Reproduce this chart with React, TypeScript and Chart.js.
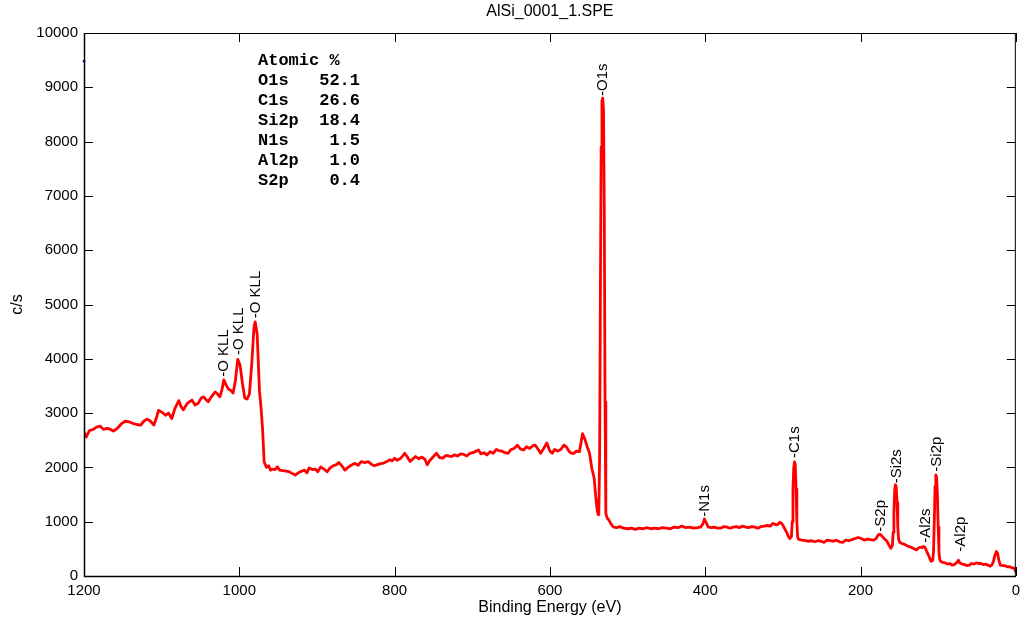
import React, { useEffect, useRef } from "react";
import { Chart, registerables } from "chart.js";

Chart.register(...registerables);

const chartTitle = "AlSi_0001_1.SPE";
const xAxisTitle = "Binding Energy (eV)";
const yAxisTitle = "c/s";

// Survey spectrum segments: [binding energy (eV), counts per second]
const highBackground: [number, number][] = [
  [1200, 2650], [1197, 2560], [1193, 2680], [1188, 2700], [1184, 2740], [1179, 2760],
  [1175, 2700], [1170, 2720], [1166, 2700], [1162, 2670], [1157, 2720], [1152, 2800],
  [1147, 2850], [1142, 2840], [1137, 2810], [1132, 2790], [1127, 2780], [1123, 2850],
  [1119, 2890], [1115, 2860], [1110, 2780], [1107, 2900], [1104, 3050], [1100, 3020],
  [1095, 2960], [1091, 3000], [1087, 2900], [1083, 3080], [1078, 3230], [1075, 3120],
  [1072, 3060], [1067, 3180], [1061, 3240], [1057, 3150], [1053, 3180], [1049, 3280],
  [1046, 3300], [1043, 3250], [1040, 3210], [1036, 3300], [1031, 3390], [1028, 3350],
  [1025, 3300],
];

const augerRegion: [number, number][] = [
  [1022, 3450], [1020, 3610], [1017, 3520], [1014, 3440], [1011, 3420], [1008, 3370],
  [1005, 3600], [1002, 3990], [999, 3880], [996, 3550], [993, 3280], [990, 3260],
  [987, 3350], [984, 3900], [981, 4600], [979.5, 4680], [977, 4450], [974, 3400],
  [972, 3100], [970, 2700], [968, 2100], [965, 2000],
];

const midBackground: [number, number][] = [
  [962, 2030], [960, 1950], [957, 1970], [954, 1960], [951, 2010], [948, 1950],
  [944, 1940], [940, 1930], [936, 1920], [932, 1890], [928, 1860], [924, 1900],
  [920, 1930], [916, 1950], [913, 1900], [910, 1990], [906, 1960], [902, 1970],
  [899, 1920], [895, 2010], [891, 1970], [887, 1920], [883, 1990], [879, 2030],
  [875, 2050], [872, 2090], [868, 2030], [864, 1950], [860, 2000], [856, 2040],
  [851, 2075], [847, 2040], [843, 2105], [839, 2090], [834, 2105], [830, 2060],
  [826, 2030], [822, 2050], [818, 2070], [814, 2080], [810, 2110], [806, 2140],
  [803, 2120], [800, 2170], [797, 2130], [793, 2160], [790, 2200], [787, 2260],
  [784, 2200], [780, 2110], [777, 2150], [773, 2200], [769, 2160], [765, 2190],
  [761, 2150], [758, 2050], [755, 2120], [750, 2200], [746, 2260], [742, 2180],
  [738, 2170], [734, 2220], [730, 2210], [727, 2200], [723, 2230], [719, 2210],
  [715, 2250], [711, 2240], [707, 2210], [703, 2260], [699, 2270], [695, 2300],
  [692, 2320], [689, 2250], [685, 2270], [681, 2230], [677, 2290], [673, 2260],
  [669, 2330], [666, 2310], [662, 2300], [658, 2270], [654, 2260], [650, 2330],
  [646, 2350], [642, 2410], [638, 2340], [634, 2320], [630, 2380], [626, 2350],
  [622, 2400], [619, 2410], [615, 2330], [612, 2260], [608, 2350], [604, 2450],
  [600, 2300], [597, 2260], [594, 2330], [590, 2300], [586, 2330], [582, 2410],
  [579, 2380], [575, 2290], [572, 2260], [569, 2260], [566, 2300], [562, 2290],
  [560, 2450], [558, 2620], [555, 2520], [552, 2380], [549, 2260],
];

const oxygenRegion: [number, number][] = [
  [546, 1980], [543, 1800], [541, 1460], [539, 1200], [538, 1130], [537, 1180],
  [536, 2200], [535, 5200], [534, 7900], [533, 8750], [532, 8800], [531, 8600],
  [530, 6800], [529, 3200], [528, 1150], [526, 1060], [524, 1030], [521, 950],
  [518, 900], [514, 890],
];

const lowBackground: [number, number][] = [
  [510, 910], [505, 880], [500, 870], [495, 880], [490, 860], [485, 880], [480, 870],
  [475, 890], [470, 870], [465, 880], [460, 870], [455, 890], [450, 880], [445, 870],
  [440, 900], [435, 890], [430, 920], [425, 890], [420, 900], [415, 880], [410, 890],
  [406, 900], [403, 960], [401, 1050], [399, 990], [396, 900], [392, 890], [388, 900],
  [384, 880], [380, 880], [376, 910], [372, 900], [368, 880], [364, 900], [360, 910],
  [356, 890], [352, 920], [348, 900], [344, 890], [340, 910], [336, 900], [332, 880],
  [328, 910], [324, 920], [320, 930], [316, 920], [313, 970], [310, 950], [307, 940],
  [304, 990], [301, 960], [298, 880], [295, 800], [293, 730], [291, 690], [289, 720],
];

const carbonRegion: [number, number][] = [
  [288, 1000], [287, 1600], [286, 2000], [285, 2100], [284, 2050], [283, 1600],
  [282, 1000], [281, 720], [280, 680], [278, 670], [275, 660], [271, 650], [267, 640],
  [263, 650], [259, 630], [255, 650], [251, 640], [247, 620], [243, 660], [239, 650],
  [235, 640], [231, 660], [227, 630], [223, 620], [219, 660], [215, 650], [211, 670],
  [207, 690], [203, 710], [199, 690], [195, 660], [191, 680], [187, 670], [183, 660],
  [180, 690], [177, 760], [175, 770], [172, 730], [169, 680], [166, 640], [163, 560],
  [161, 510],
];

const siliconRegion: [number, number][] = [
  [159, 560], [158, 800], [157, 1200], [156, 1580], [155, 1680], [154, 1640],
  [153, 1350], [152, 900], [151, 680], [149.5, 620], [147, 600], [143, 580], [139, 550],
  [135, 530], [131, 500], [128, 480], [125, 520], [123, 530], [121, 520], [119, 545],
  [117, 530], [115, 460], [113, 400], [111, 330], [109, 270], [107, 290], [106, 450],
  [105, 1000], [104, 1650], [103, 1860], [102, 1820], [101, 1500], [100, 900],
  [99, 450], [98, 300], [96, 260],
];

const valenceRegion: [number, number][] = [
  [94, 250], [91, 240], [88, 220], [85, 230], [82, 200], [79, 210], [76, 250], [74, 290],
  [72, 240], [69, 220], [66, 210], [63, 190], [60, 200], [57, 230], [54, 220], [51, 240],
  [48, 230], [45, 230], [42, 210], [39, 220], [36, 200], [33, 180], [31, 200], [29, 260],
  [27, 380], [25, 450], [23.5, 420], [22, 300], [20, 200], [17, 190], [14, 190],
  [11, 170], [8, 170], [5, 150], [3, 150], [1, 120], [0, 80],
];

const markerPoint: [number, number][] = [[1200, 9480]];

// Peak labels
const peakNames = ["-O KLL", "-O KLL", "-O KLL", "-O1s", "-N1s", "-C1s", "-S2p", "-Si2s", "-Al2s", "-Si2p", "-Al2p"];
const peakEnergies = [1019.7, 1000, 979.2, 532, 400, 284, 173.5, 153.5, 116, 101.6, 70.5];
const peakLabelCounts = [3670, 4070, 4746, 8840, 1092, 2173, 816, 1707, 613, 1921, 448];

// Atomic % table
const tableHeader = "Atomic %";
const tableElements = ["O1s", "C1s", "Si2p", "N1s", "Al2p", "S2p"];
const tablePercents = ["52.1", "26.6", "18.4", "1.5", "1.0", "0.4"];

const xTicks = [0, 200, 400, 600, 800, 1000, 1200];
const yTicks = [0, 1000, 2000, 3000, 4000, 5000, 6000, 7000, 8000, 9000, 10000];

const SANS = '"Liberation Sans", Arial, sans-serif';
const MONO = '"Liberation Mono", "Courier New", monospace';

export default function App() {
  const canvasRef = useRef<HTMLCanvasElement | null>(null);

  useEffect(() => {
    if (!canvasRef.current) return;
    const spectrum = [
      ...highBackground, ...augerRegion, ...midBackground, ...oxygenRegion,
      ...lowBackground, ...carbonRegion, ...siliconRegion, ...valenceRegion,
    ].map(([x, y]) => ({ x, y }));

    const decorations = {
      id: "decorations",
      afterDraw(chart: any) {
        const ctx = chart.ctx;
        const { left, right, top, bottom } = chart.chartArea;
        const xs = chart.scales.x;
        const ys = chart.scales.y;
        ctx.save();
        // box
        ctx.strokeStyle = "#000";
        ctx.lineWidth = 1;
        ctx.strokeRect(left + 0.5, top + 0.5, right - left - 1, bottom - top);
        ctx.lineWidth = 1.5;
        ctx.beginPath();
        ctx.moveTo(left + 0.5, top);
        ctx.lineTo(left + 0.5, bottom + 0.5);
        ctx.lineTo(right, bottom + 0.5);
        ctx.stroke();
        // inward ticks
        ctx.lineWidth = 1;
        const tl = 9;
        ctx.beginPath();
        xTicks.forEach((v) => {
          const px = Math.round(xs.getPixelForValue(v)) + 0.5;
          ctx.moveTo(px, bottom);
          ctx.lineTo(px, bottom - tl);
          ctx.moveTo(px, top);
          ctx.lineTo(px, top + tl);
        });
        yTicks.forEach((v) => {
          const py = Math.round(ys.getPixelForValue(v)) + 0.5;
          ctx.moveTo(left, py);
          ctx.lineTo(left + tl, py);
          ctx.moveTo(right, py);
          ctx.lineTo(right - tl, py);
        });
        ctx.stroke();

        // titles
        ctx.fillStyle = "#000";
        ctx.font = `16px ${SANS}`;
        ctx.textAlign = "center";
        ctx.textBaseline = "middle";
        ctx.fillText(chartTitle, (left + right) / 2, 12);
        ctx.fillText(xAxisTitle, (left + right) / 2, 608);
        ctx.save();
        ctx.translate(18, (top + bottom) / 2);
        ctx.rotate(-Math.PI / 2);
        ctx.fillText(yAxisTitle, 0, 0);
        ctx.restore();

        // peak labels
        ctx.font = `15px ${SANS}`;
        ctx.textAlign = "left";
        ctx.textBaseline = "middle";
        peakNames.forEach((name, i) => {
          const px = xs.getPixelForValue(peakEnergies[i]);
          const py = ys.getPixelForValue(peakLabelCounts[i]);
          ctx.save();
          ctx.translate(px, py);
          ctx.rotate(-Math.PI / 2);
          ctx.fillText(name, 0, 0);
          ctx.restore();
        });

        // atomic % table
        ctx.font = `bold 17px ${MONO}`;
        ctx.textAlign = "left";
        ctx.textBaseline = "alphabetic";
        const tx = 258;
        const ty = 65;
        ctx.fillText(tableHeader, tx, ty);
        tableElements.forEach((el, i) => {
          const row = el.padEnd(6, " ") + tablePercents[i].padStart(4, " ");
          ctx.fillText(row, tx, ty + 20 * (i + 1));
        });
        ctx.restore();
      },
    };

    const chart = new Chart(canvasRef.current, {
      type: "line",
      data: {
        datasets: [
          {
            data: spectrum,
            borderColor: "#ff0000",
            borderWidth: 2.8,
            pointRadius: 0,
            fill: false,
            tension: 0,
            borderJoinStyle: "round",
          } as any,
          {
            data: markerPoint.map(([x, y]) => ({ x, y })),
            borderColor: "#0000ff",
            backgroundColor: "#0000ff",
            showLine: false,
            pointRadius: 1.3,
            borderWidth: 0,
            clip: false,
          } as any,
        ],
      },
      options: {
        animation: false,
        responsive: false,
        maintainAspectRatio: false,
        devicePixelRatio: 1,
        layout: { padding: { left: 0, right: 5, top: 33, bottom: 0 } },
        plugins: {
          legend: { display: false },
          title: { display: false },
          tooltip: { enabled: false },
        },
        scales: {
          x: {
            type: "linear",
            min: 0,
            max: 1200,
            reverse: true,
            grid: { display: false, drawTicks: false },
            border: { display: false },
            ticks: {
              stepSize: 200,
              padding: 6,
              color: "#000",
              font: { size: 15, family: SANS },
              maxRotation: 0,
              callback: (v: any) => String(v),
            },
            afterFit: (scale: any) => {
              scale.height = 50;
            },
          },
          y: {
            type: "linear",
            min: 0,
            max: 10000,
            grid: { display: false, drawTicks: false },
            border: { display: false },
            ticks: {
              stepSize: 1000,
              padding: 6,
              color: "#000",
              font: { size: 15, family: SANS },
              callback: (v: any) => String(v),
            },
            afterFit: (scale: any) => {
              scale.width = 84;
            },
          },
        },
      },
      plugins: [decorations],
    });
    return () => chart.destroy();
  }, []);

  return (
    <div style={{ position: "fixed", left: 0, top: 0, width: 1026, height: 626, background: "#fff" }}>
      <canvas ref={canvasRef} width={1026} height={626} style={{ width: 1026, height: 626 }} />
    </div>
  );
}
